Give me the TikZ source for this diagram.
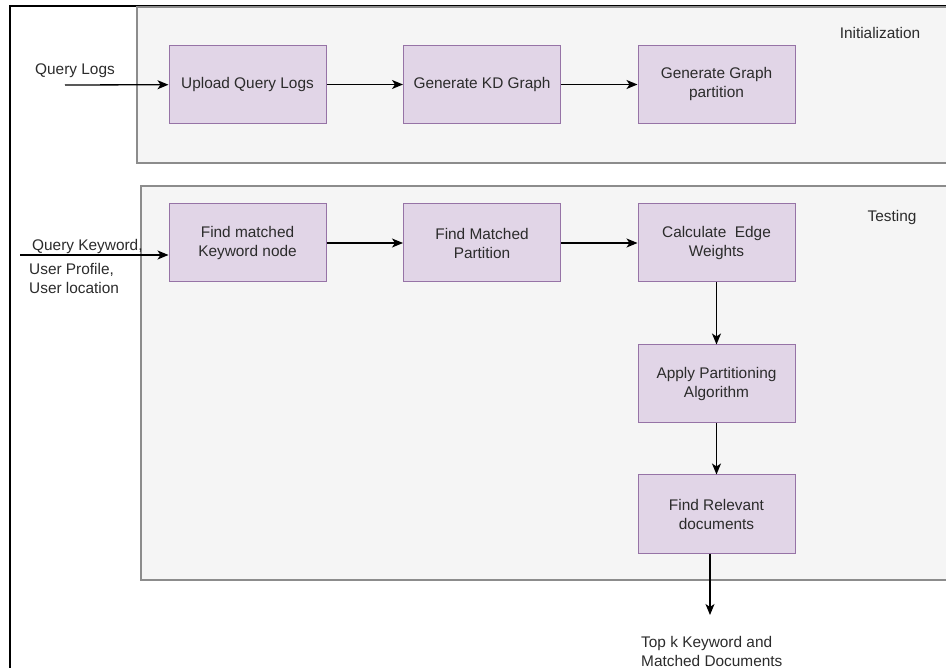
\documentclass[tikz,border=0pt]{standalone}
\usepackage{fontspec}
\setmainfont{Liberation Sans}
\usetikzlibrary{arrows.meta}
\definecolor{boxfill}{HTML}{E1D5E7}
\definecolor{boxline}{HTML}{9673A6}
\definecolor{panefill}{HTML}{F5F5F5}
\definecolor{paneline}{HTML}{8C8C8C}
\definecolor{txt}{HTML}{2B2B2B}

\begin{document}
\begin{tikzpicture}[x=1pt,y=-1pt,
    font=\fontsize{15.4}{19}\selectfont, text=txt,
    proc/.style={draw=boxline,fill=boxfill,line width=1pt,minimum width=157pt,minimum height=78pt,align=center,inner sep=0pt},
    pane/.style={draw=paneline,fill=panefill,line width=1.2pt},
    lbl/.style={inner sep=0pt,align=left},
    arr/.style={-{Stealth[length=11pt,width=9pt,inset=3pt]},line width=1.3pt}]
    \useasboundingbox (0,0) rectangle (946,668);
    % frame and the two stages
    \draw[line width=2pt] (10,670)--(10,6)--(950,6);
    \draw[pane] (137,7) rectangle (952,163);
    \draw[pane] (141,186) rectangle (952,580);
    \node (init) at (880,33) {Initialization};
    \node (test) at (892,218) {Testing};
    % initialization
    \node[proc] (up) at (247.5,84.5) {Upload Query Logs};
    \node[proc] (kd) at (482,84.5) {Generate KD Graph};
    \node[proc] (gp) at (716.5,84.5) {Generate Graph\\partition};
    \node (qlog) at (75,71) {Query Logs};
    \coordinate (qlin) at (65,85);
    \draw[arr] (qlin)--(up);
    \draw[arr] (up)--(kd);
    \draw[arr] (kd)--(gp);
    % testing
    \node[proc] (fm) at (247.5,243) {Find matched\\Keyword node};
    \node[proc] (mp) at (482,243) {Find Matched\\Partition};
    \node[proc] (ew) at (716.5,243) {Calculate\ \ Edge\\Weights};
    \node[proc] (ap) at (716.5,384) {Apply Partitioning\\Algorithm};
    \node[proc] (rd) at (716.5,514) {Find Relevant\\documents};
    \node[lbl,anchor=west] (qkey) at (32,247) {Query Keyword,};
    \node[lbl,anchor=west] (uprof) at (29,278) {User Profile,\\User location};
    \coordinate (qkin) at (20,255);
    \draw[arr] (qkin)--(fm.west |- qkin);
    \draw[arr] (fm)--(mp);
    \draw[arr] (mp)--(ew);
    \draw[arr] (ew)--(ap);
    \draw[arr] (ap)--(rd);
    \coordinate (out) at (710,615);
    \draw[arr] (rd.south -| out)--(out);
    \node[lbl,anchor=west] (topk) at (641,651) {Top k Keyword and\\Matched Documents};
\end{tikzpicture}
\end{document}
